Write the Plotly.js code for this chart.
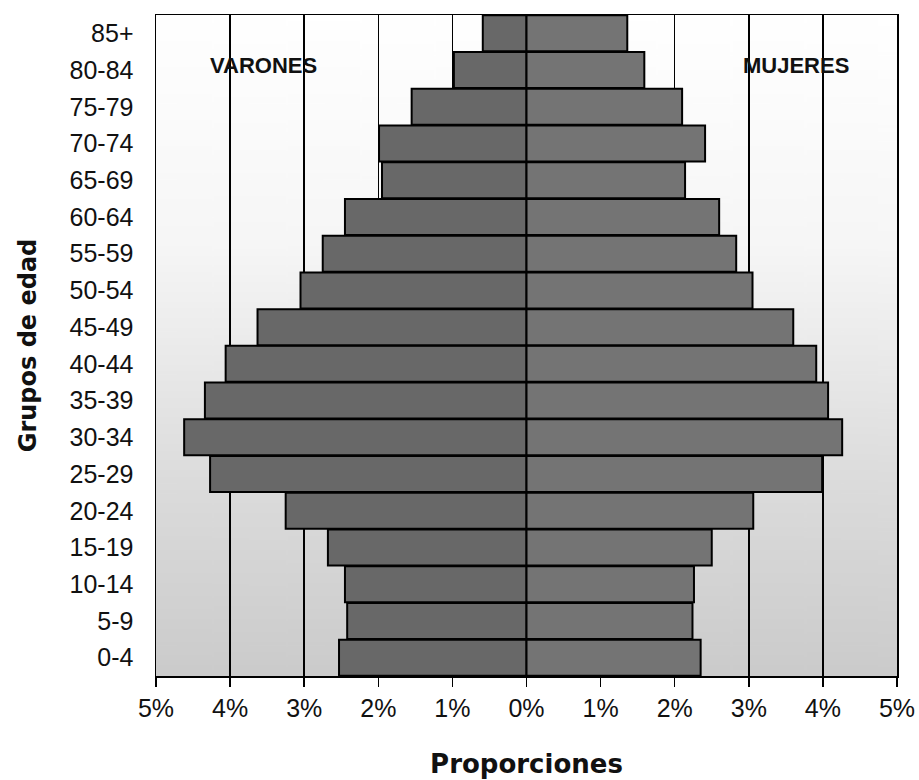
<!DOCTYPE html>
<html>
<head>
<meta charset="utf-8">
<script src="https://cdn.plot.ly/plotly-3.0.1.min.js"></script>
<style>html,body{margin:0;padding:0;background:#fff;}#chart{width:919px;height:780px;}</style>
</head>
<body>
<div id="chart"></div>
<script>
// Age groups, bottom to top
var ageGroups = ["0-4","5-9","10-14","15-19","20-24","25-29","30-34","35-39","40-44","45-49","50-54","55-59","60-64","65-69","70-74","75-79","80-84","85+"];
// Percent of total population
var varones = [2.53, 2.42, 2.45, 2.68, 3.25, 4.27, 4.62, 4.34, 4.06, 3.63, 3.05, 2.75, 2.45, 1.95, 1.99, 1.55, 0.98, 0.59];
var mujeres = [2.35, 2.24, 2.26, 2.50, 3.06, 3.99, 4.26, 4.07, 3.91, 3.60, 3.05, 2.83, 2.60, 2.14, 2.41, 2.10, 1.59, 1.36];
var tickValues = [-5,-4,-3,-2,-1,0,1,2,3,4,5];
var tickLabels = ["5%","4%","3%","2%","1%","0%","1%","2%","3%","4%","5%"];

var varonesNeg = varones.map(function(v){ return -v; });

// background gradient image (style only)
var cv = document.createElement('canvas');
cv.width = 20; cv.height = 400;
var ctx = cv.getContext('2d');
var g = ctx.createLinearGradient(0,0,0,400);
g.addColorStop(0, '#ffffff');
g.addColorStop(0.35, '#f6f6f6');
g.addColorStop(0.7, '#dcdcdc');
g.addColorStop(1, '#cbcbcb');
ctx.fillStyle = g; ctx.fillRect(0,0,20,400);
var bgURL = cv.toDataURL('image/png');

var traces = [
  {type:'bar', orientation:'h', y: ageGroups, x: varonesNeg, name:'Varones',
   marker:{color:'#686868', line:{color:'#000', width:2}}, hoverinfo:'skip'},
  {type:'bar', orientation:'h', y: ageGroups, x: mujeres, name:'Mujeres',
   marker:{color:'#747474', line:{color:'#000', width:2}}, hoverinfo:'skip'}
];

var layout = {
  width: 919, height: 780,
  margin: {l:156, r:22, t:15, b:104},
  paper_bgcolor:'#ffffff',
  plot_bgcolor:'rgba(0,0,0,0)',
  barmode:'relative',
  bargap:0.02,
  showlegend:false,
  font:{family:'"Liberation Sans", Arial, sans-serif', color:'#111'},
  xaxis:{
    range:[-5,5], tickvals:tickValues, ticktext:tickLabels,
    tickfont:{size:25, family:'"Liberation Sans", Arial, sans-serif', color:'#111'},
    ticks:'outside', ticklen:9, tickwidth:1.5, tickcolor:'#000',
    showgrid:true, gridcolor:'#000', gridwidth:1.5,
    zeroline:true, zerolinecolor:'#000', zerolinewidth:2,
    showline:true, linecolor:'#000', linewidth:1.5, mirror:true,
    fixedrange:true,
    title:{text:'Proporciones', standoff:34, font:{size:26, family:'"DejaVu Sans", sans-serif', weight:'bold', color:'#111'}}
  },
  yaxis:{
    type:'category', categoryorder:'array', categoryarray: ageGroups,
    tickfont:{size:25, family:'"Liberation Sans", Arial, sans-serif', color:'#111'},
    ticks:'', showgrid:false, zeroline:false,
    showline:true, linecolor:'#000', linewidth:1.5, mirror:true,
    ticklabelstandoff:16,
    fixedrange:true,
    title:{text:'Grupos de edad', standoff:26, font:{size:24, family:'"DejaVu Sans", sans-serif', weight:'bold', color:'#111'}}
  },
  images:[{source:bgURL, xref:'paper', yref:'paper', x:0, y:1, sizex:1, sizey:1, sizing:'stretch', layer:'below'}],
  annotations:[
    {text:'VARONES', xref:'x', yref:'paper', x:-3.55, y:0.923, yanchor:'middle', xanchor:'center', showarrow:false,
     font:{size:22, family:'"Liberation Sans", Arial, sans-serif', weight:'bold', color:'#111'}},
    {text:'MUJERES', xref:'x', yref:'paper', x:3.64, y:0.923, yanchor:'middle', xanchor:'center', showarrow:false,
     font:{size:22, family:'"Liberation Sans", Arial, sans-serif', weight:'bold', color:'#111'}}
  ]
};

Plotly.newPlot('chart', traces, layout, {staticPlot:true, displayModeBar:false});
</script>
</body>
</html>
